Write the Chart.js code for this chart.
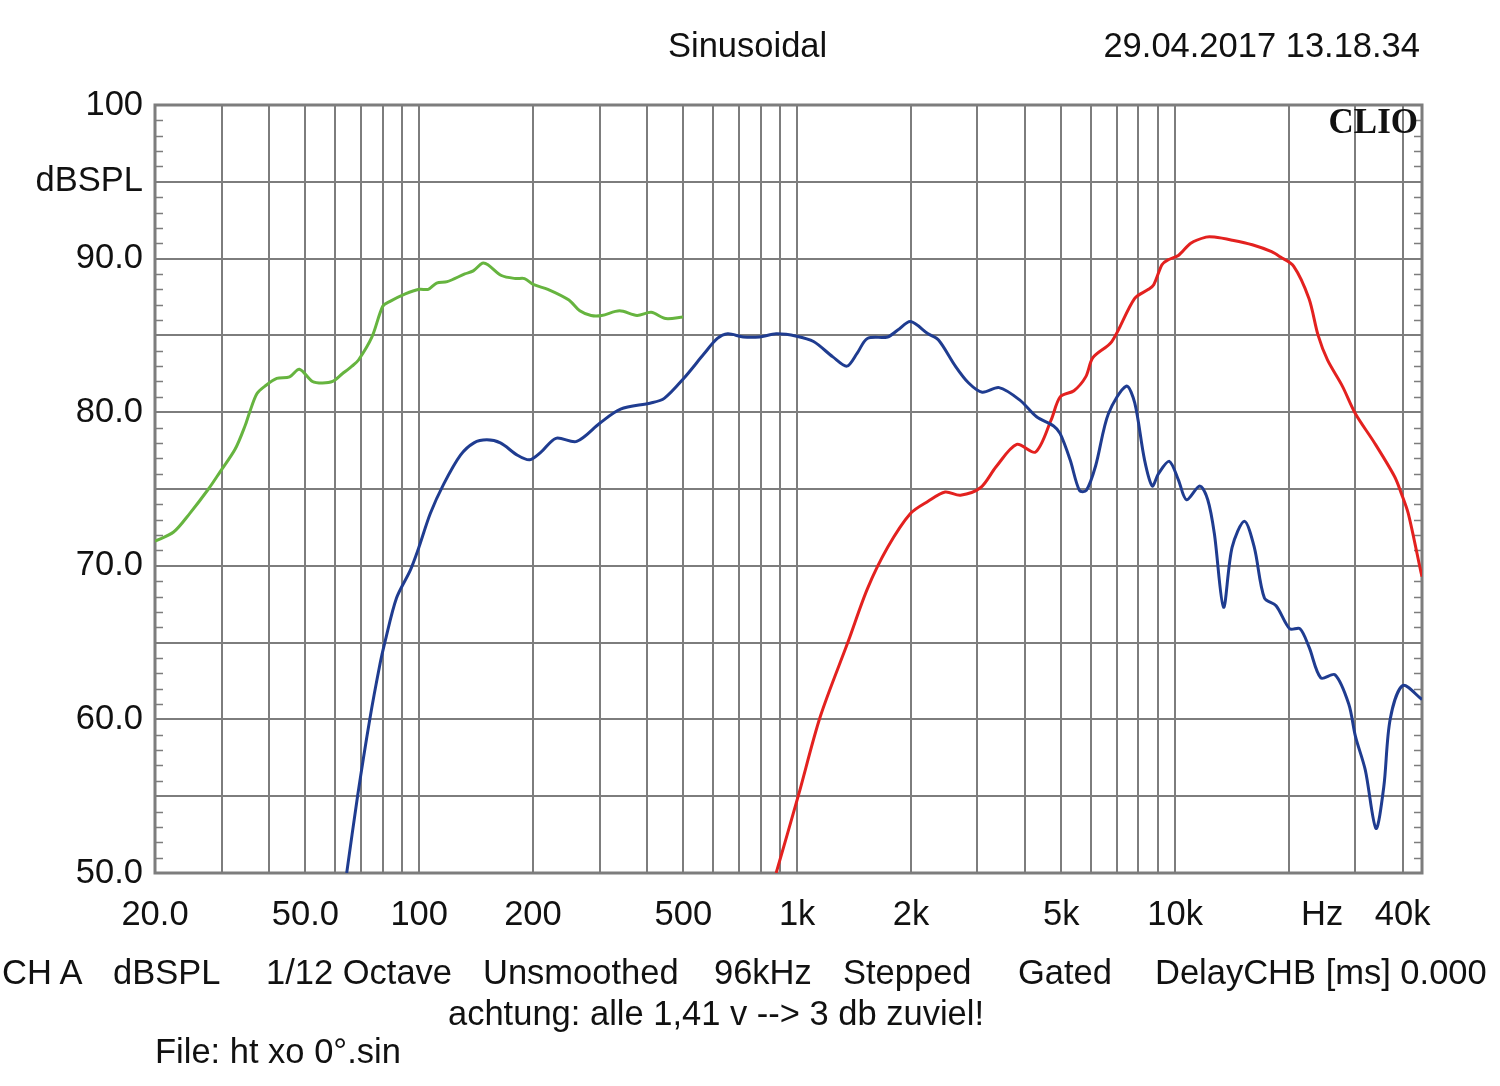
<!DOCTYPE html>
<html>
<head>
<meta charset="utf-8">
<script src="https://cdn.jsdelivr.net/npm/chart.js@4.4.1/dist/chart.umd.min.js"></script>
<style>
    html, body {
        margin: 0;
        padding: 0;
        background: #fff;
    }
    #wrap {
        position: relative;
        width: 1500px;
        height: 1086px;
        font-family: "Liberation Sans", Arial, sans-serif;
        color: #111;
    }
    #myChart {
        position: absolute;
        left: 0;
        top: 0;
    }
    .t {
        position: absolute;
        font-size: 34.5px;
        line-height: 34px;
        white-space: pre;
    }
    .clio {
        font-family: "Liberation Serif", "Times New Roman", serif;
        font-weight: bold;
        font-size: 35px;
    }
</style>
</head>
<body>
<div id="wrap">
    <canvas id="myChart" width="1500" height="1086"></canvas>

    <div class="t" style="left:668px; top:28px;">Sinusoidal</div>
    <div class="t" style="right:80px; top:28px;">29.04.2017 13.18.34</div>
    <div class="t clio" style="right:82px; top:105px;">CLIO</div>

    <div class="t" style="left:2px; top:955px;">CH A</div>
    <div class="t" style="left:113px; top:955px;">dBSPL</div>
    <div class="t" style="left:266px; top:955px;">1/12 Octave</div>
    <div class="t" style="left:483px; top:955px;">Unsmoothed</div>
    <div class="t" style="left:714px; top:955px;">96kHz</div>
    <div class="t" style="left:843px; top:955px;">Stepped</div>
    <div class="t" style="left:1018px; top:955px;">Gated</div>
    <div class="t" style="left:1155px; top:955px;">DelayCHB [ms] 0.000</div>
    <div class="t" style="left:448px; top:996px;">achtung: alle 1,41 v --&gt; 3 db zuviel!</div>
    <div class="t" style="left:155px; top:1034px;">File: ht xo 0°.sin</div>
</div>

<script>

    // woofer / near field (green)
    var greenFreq = [20, 22.4, 24.7, 27.7, 29.7, 32.6, 34.6, 35.6, 37.2, 39.1, 42, 45.4, 48.2, 52.2, 55.5, 59, 62.6, 66.4, 69.1,
        75, 80.1, 83.5, 91.9, 100, 105.7, 111.2, 118.6, 132, 139, 147, 152, 165, 180, 190, 201, 219, 249, 266, 285, 304,
        339, 377, 411, 449, 499];
    var greenDb = [71.6, 72.2, 73.4, 75.0, 76.1, 77.6, 79.1, 80.0, 81.2, 81.7, 82.2, 82.3, 82.8, 82.0, 81.9, 82.0, 82.5, 83.0, 83.4,
        84.9, 86.9, 87.2, 87.7, 88.0, 88.0, 88.4, 88.5, 89.0, 89.2, 89.7, 89.6, 88.9, 88.7, 88.7, 88.3, 88.0, 87.3, 86.6, 86.3, 86.3,
        86.6, 86.3, 86.5, 86.1, 86.2];

    // mid (blue)
    var blueFreq = [64.3, 68.7, 74, 78.9, 81.1, 87.1, 94.7, 99.5, 107, 116, 128.6, 139.6, 151, 164, 182, 196, 210, 230, 261,
        301, 341, 410, 445, 501, 567, 615, 655, 720, 795, 880, 996, 1105, 1243, 1354, 1442, 1534, 1736, 1846, 1995, 2221,
        2366, 2622, 2843, 3088, 3422, 3878, 4300, 4770, 4965, 5275, 5585, 5820, 6160, 6660, 7430, 7820, 8300, 8700, 9040,
        9650, 10200, 10720, 11620, 12200, 12700, 13430, 14150, 15250, 16200, 17230, 18500, 20100, 21400, 22620, 24300,
        26500, 28800, 30000, 31860, 34000, 35650, 37060, 40000, 45000];
    var blueDb = [50.0, 55.0, 60.0, 63.7, 65.0, 67.9, 69.7, 71.1, 73.4, 75.3, 77.2, 78.0, 78.2, 78.0, 77.2, 76.9, 77.4, 78.3, 78.1,
        79.3, 80.2, 80.6, 80.9, 82.2, 83.8, 84.8, 85.1, 84.9, 84.9, 85.1, 84.95, 84.6, 83.6, 83.0, 83.85, 84.8, 84.9, 85.35, 85.9, 85.1,
        84.7, 83.0, 81.9, 81.3, 81.6, 80.8, 79.7, 79.1, 78.6, 76.9, 74.9, 74.9, 76.5, 79.9, 81.7, 80.6, 76.9, 75.2, 76.0,
        76.8, 75.6, 74.3, 75.2, 74.3, 72.1, 67.3, 71.2, 72.9, 71.2, 67.9, 67.4, 65.9, 65.9, 64.7, 62.7,
        62.9, 61.0, 58.9, 56.7, 52.9, 55.6, 60.0, 62.2, 61.3];

    // tweeter (red)
    var redFreq = [880, 1009, 1152, 1366, 1534, 1736, 1994, 2221, 2464, 2704, 3060, 3360, 3810, 4270, 4700, 4965, 5400, 5800,
        6060, 6800, 7810, 8500, 8780, 9230, 9550, 10200, 11000, 12070, 12700, 14150, 16000, 18000, 19000, 20600, 22600,
        23900, 25300, 27700, 30000, 33700, 38100, 39700, 41400, 44700, 45000];
    var redDb = [50.0, 55.1, 60.2, 65.1, 68.5, 71.2, 73.4, 74.2, 74.8, 74.6, 75.1, 76.45, 77.9, 77.4, 79.5, 81.0, 81.4, 82.3,
        83.55, 84.6, 87.4, 88.0, 88.3, 89.6, 89.9, 90.2, 91.0, 91.4, 91.4, 91.2, 90.9, 90.45, 90.1, 89.5, 87.4,
        85.0, 83.4, 81.7, 79.9, 78.0, 75.8, 74.7, 73.4, 69.6, 69.3];

    // axes
    var xGridValues = [20, 30, 40, 50, 60, 70, 80, 90, 100, 200, 300, 400, 500, 600, 700, 800, 900,
        1000, 2000, 3000, 4000, 5000, 6000, 7000, 8000, 9000, 10000, 20000, 30000, 40000, 45000];
    var xLabelValues = [20, 50, 100, 200, 500, 1000, 2000, 5000, 10000, 24500, 40000];
    var xLabelTexts = ['20.0', '50.0', '100', '200', '500', '1k', '2k', '5k', '10k', 'Hz', '40k'];
    var yLabelValues = [100, 95, 90, 80, 70, 60, 50];
    var yLabelTexts = ['100', 'dBSPL', '90.0', '80.0', '70.0', '60.0', '50.0'];

    var gridColor = '#7d7d7d';

    function pts(fs, ds) {
        return fs.map(function (f, i) { return { x: f, y: ds[i] }; });
    }

    var frame = {
        id: 'frame',
        beforeDatasetsDraw: function (chart) {
            var ctx = chart.ctx;
            var a = chart.chartArea;
            var ys = chart.scales.y;
            ctx.save();
            ctx.strokeStyle = gridColor;
            ctx.lineWidth = 1.5;
            ctx.beginPath();
            for (var v = 51; v < 100; v++) {
                if (v % 5 === 0) continue;
                var py = Math.round(ys.getPixelForValue(v)) + 0.5;
                ctx.moveTo(a.left, py);
                ctx.lineTo(a.left + 8, py);
                ctx.moveTo(a.right - 8, py);
                ctx.lineTo(a.right, py);
            }
            ctx.stroke();
            ctx.lineWidth = 3;
            ctx.strokeRect(a.left, a.top, a.right - a.left, a.bottom - a.top);
            ctx.restore();
        }
    };

    var config = {
        type: 'scatter',
        data: {
            datasets: [
                { label: 'green', data: pts(greenFreq, greenDb), borderColor: '#66b43f' },
                { label: 'blue', data: pts(blueFreq, blueDb), borderColor: '#1f3c90' },
                { label: 'red', data: pts(redFreq, redDb), borderColor: '#e3211f' }
            ]
        },
        options: {
            responsive: false,
            animation: false,
            devicePixelRatio: 1,
            showLine: true,
            elements: {
                point: { radius: 0 },
                line: { borderWidth: 3, tension: 0.3, fill: false }
            },
            layout: { padding: { top: 105, right: 78, left: 0, bottom: 0 } },
            plugins: {
                legend: { display: false },
                tooltip: { enabled: false }
            },
            scales: {
                x: {
                    type: 'logarithmic',
                    min: 20,
                    max: 45000,
                    afterBuildTicks: function (scale) {
                        scale.ticks = xGridValues.concat([24500]).sort(function (a, b) { return a - b; })
                            .map(function (v) { return { value: v }; });
                    },
                    afterFit: function (scale) { scale.height = 213; },
                    border: { display: false },
                    grid: {
                        drawTicks: false,
                        lineWidth: 2,
                        color: function (c) {
                            return c.tick && c.tick.value === 24500 ? 'rgba(0,0,0,0)' : gridColor;
                        }
                    },
                    ticks: {
                        autoSkip: false,
                        maxRotation: 0,
                        minRotation: 0,
                        padding: 22,
                        color: '#111',
                        font: { family: '"Liberation Sans", Arial, sans-serif', size: 34.5 },
                        callback: function (value) {
                            var i = xLabelValues.indexOf(value);
                            return i < 0 ? '' : xLabelTexts[i];
                        }
                    }
                },
                y: {
                    type: 'linear',
                    min: 50,
                    max: 100,
                    afterBuildTicks: function (scale) {
                        var t = [];
                        for (var v = 50; v <= 100; v += 5) t.push({ value: v });
                        scale.ticks = t;
                    },
                    afterFit: function (scale) { scale.width = 155; },
                    border: { display: false },
                    grid: { drawTicks: false, lineWidth: 2, color: gridColor },
                    ticks: {
                        padding: 12,
                        color: '#111',
                        font: { family: '"Liberation Sans", Arial, sans-serif', size: 34.5 },
                        callback: function (value) {
                            var i = yLabelValues.indexOf(value);
                            return i < 0 ? '' : yLabelTexts[i];
                        }
                    }
                }
            }
        },
        plugins: [frame]
    };

    var ctx = document.getElementById('myChart').getContext('2d');
    window.myChart = new Chart(ctx, config);

</script>
</body>
</html>
